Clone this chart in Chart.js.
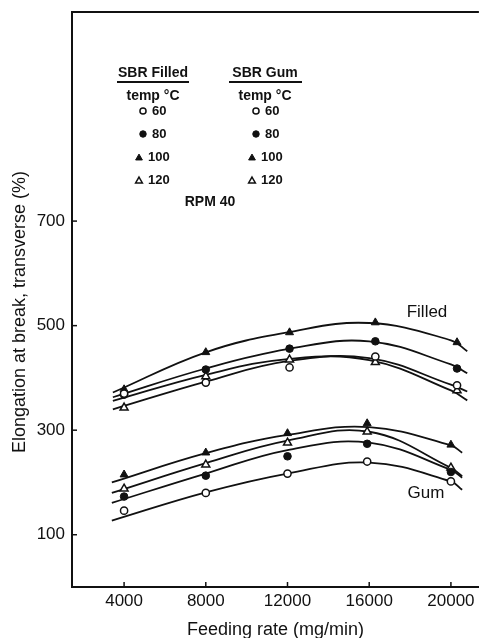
<!DOCTYPE html>
<html><head><meta charset="utf-8">
<script src="https://cdn.jsdelivr.net/npm/chart.js@4.4.1/dist/chart.umd.min.js"></script>
<style>html,body{margin:0;padding:0;background:#fff;overflow:hidden}#wrap{width:480px;height:638px;position:relative;overflow:hidden}canvas{display:block}</style>
</head><body><div id="wrap"><canvas id="c" width="485" height="638"></canvas></div>
<script>
// ---- data ----
const xTicks = [4000, 8000, 12000, 16000, 20000];
const yTicks = [100, 300, 500, 700];
const temps = ['60', '80', '100', '120'];

// measured points
const filledX   = [4000, 8000, 12100, 16300, 20300];
const filled60  = [370, 391, 420, 441, 386];
const filled80  = [368, 416, 456, 470, 418];
const filled100 = [378, 449, 487, 506, 468];
const filled120 = [343, 403, 435, 430, 376];

const gumX   = [4000, 8000, 12000, 15900, 20000];
const gum60  = [146, 180, 217, 240, 202];
const gum80  = [173, 213, 250, 274, 220];
const gum100 = [215, 257, 294, 313, 272];
const gum120 = [188, 234, 276, 297, 228];

// fitted curves
const filledCurveX = [3450, 8000, 12000, 16000, 20000, 20800];
const filledFit60  = [340, 393, 432, 438, 387, 374];
const filledFit80  = [363, 418, 455, 470, 426, 409];
const filledFit100 = [372, 449, 487, 505, 472, 451];
const filledFit120 = [356, 406, 436, 434, 376, 357];

const gumCurveX = [3400, 8000, 12000, 16000, 20000, 20550];
const gumFit60  = [127, 181, 217, 238, 202, 186];
const gumFit80  = [161, 217, 262, 276, 224, 209];
const gumFit100 = [200, 256, 291, 306, 271, 257];
const gumFit120 = [180, 237, 280, 297, 228, 212];

// ---- build datasets ----
const INK = '#111';
const FONT = '"Liberation Sans", Arial, Helvetica, sans-serif';
const pts = (xs, ys) => xs.map((x, i) => ({x: x, y: ys[i]}));

const markerStyles = {
  '60':  {pointStyle: 'circle',   pointRadius: 3.6, pointBackgroundColor: '#fff', pointBorderColor: INK, pointBorderWidth: 1.5},
  '80':  {pointStyle: 'circle',   pointRadius: 3.8, pointBackgroundColor: INK,    pointBorderColor: INK, pointBorderWidth: 1},
  '100': {pointStyle: 'triangle', pointRadius: 4.6, pointBackgroundColor: INK,    pointBorderColor: INK, pointBorderWidth: 1},
  '120': {pointStyle: 'triangle', pointRadius: 4.6, pointBackgroundColor: '#fff', pointBorderColor: INK, pointBorderWidth: 1.5}
};

function markerSet(label, xs, ys, t) {
  return Object.assign({label: label, data: pts(xs, ys), showLine: false, order: 0}, markerStyles[t]);
}
function curveSet(label, xs, ys) {
  return {label: label, data: pts(xs, ys), showLine: true, pointRadius: 0, borderColor: INK,
          borderWidth: 1.8, tension: 0.4, fill: false, order: 1};
}

const datasets = [
  curveSet('Filled 60 fit', filledCurveX, filledFit60),
  curveSet('Filled 80 fit', filledCurveX, filledFit80),
  curveSet('Filled 100 fit', filledCurveX, filledFit100),
  curveSet('Filled 120 fit', filledCurveX, filledFit120),
  curveSet('Gum 60 fit', gumCurveX, gumFit60),
  curveSet('Gum 80 fit', gumCurveX, gumFit80),
  curveSet('Gum 100 fit', gumCurveX, gumFit100),
  curveSet('Gum 120 fit', gumCurveX, gumFit120),
  markerSet('Filled 60', filledX, filled60, '60'),
  markerSet('Filled 80', filledX, filled80, '80'),
  markerSet('Filled 100', filledX, filled100, '100'),
  markerSet('Filled 120', filledX, filled120, '120'),
  markerSet('Gum 60', gumX, gum60, '60'),
  markerSet('Gum 80', gumX, gum80, '80'),
  markerSet('Gum 100', gumX, gum100, '100'),
  markerSet('Gum 120', gumX, gum120, '120')
];

function drawMarker(ctx, t, x, y) {
  const s = markerStyles[t];
  const r = s.pointRadius * 0.85;
  ctx.save();
  ctx.beginPath();
  if (s.pointStyle === 'circle') {
    ctx.arc(x, y, r, 0, Math.PI * 2);
  } else {
    for (let k = 0; k < 3; k++) {
      const a = k * 2 * Math.PI / 3;
      const px = x + Math.sin(a) * r, py = y - Math.cos(a) * r;
      if (k === 0) ctx.moveTo(px, py); else ctx.lineTo(px, py);
    }
    ctx.closePath();
  }
  ctx.fillStyle = s.pointBackgroundColor;
  ctx.fill();
  ctx.lineWidth = s.pointBorderWidth;
  ctx.strokeStyle = INK;
  ctx.stroke();
  ctx.restore();
}

const decor = {
  id: 'decor',
  afterDraw(chart) {
    const {ctx, chartArea: ca, scales} = chart;
    ctx.save();
    ctx.strokeStyle = INK;
    // top frame line
    ctx.lineWidth = 2;
    ctx.beginPath(); ctx.moveTo(ca.left - 1, ca.top); ctx.lineTo(ca.right, ca.top); ctx.stroke();
    // inward tick marks
    ctx.lineWidth = 1.5;
    yTicks.forEach(v => {
      const py = scales.y.getPixelForValue(v);
      ctx.beginPath(); ctx.moveTo(ca.left, py); ctx.lineTo(ca.left + 5, py); ctx.stroke();
    });
    xTicks.forEach(v => {
      const px = scales.x.getPixelForValue(v);
      ctx.beginPath(); ctx.moveTo(px, ca.bottom); ctx.lineTo(px, ca.bottom - 5); ctx.stroke();
    });

    // key
    ctx.fillStyle = INK;
    ctx.textBaseline = 'middle';
    const cols = [{title: 'SBR Filled', cx: 153, u0: 117, u1: 189, m: 143, mt: 139},
                  {title: 'SBR Gum',    cx: 265, u0: 229, u1: 302, m: 256, mt: 252}];
    cols.forEach(c => {
      ctx.textAlign = 'center';
      ctx.font = 'bold 14px ' + FONT;
      ctx.fillText(c.title, c.cx, 73);
      ctx.lineWidth = 2;
      ctx.beginPath(); ctx.moveTo(c.u0, 82); ctx.lineTo(c.u1, 82); ctx.stroke();
      ctx.fillText('temp °C', c.cx, 96);
      ctx.font = 'bold 13px ' + FONT;
      ctx.textAlign = 'left';
      temps.forEach((t, i) => {
        const yy = 111 + i * 23;
        const tri = markerStyles[t].pointStyle === 'triangle';
        drawMarker(ctx, t, tri ? c.mt : c.m, yy + (tri ? 1 : 0));
        ctx.fillText(t, (tri ? c.mt : c.m) + 9, yy);
      });
    });
    ctx.textAlign = 'center';
    ctx.font = 'bold 14px ' + FONT;
    ctx.fillText('RPM 40', 210, 202);

    // curve group labels
    ctx.font = '17px ' + FONT;
    ctx.fillText('Filled', 427, 312);
    ctx.fillText('Gum', 426, 493);
    ctx.restore();
  }
};

new Chart(document.getElementById('c'), {
  type: 'scatter',
  data: {datasets: datasets},
  options: {
    responsive: false,
    animation: false,
    events: [],
    layout: {padding: {top: 12, right: 0, left: 0, bottom: 0}},
    plugins: {legend: {display: false}, tooltip: {enabled: false}},
    scales: {
      x: {
        type: 'linear', min: 1450, max: 21370,
        afterFit(s) { s.height = 51; s.paddingLeft = 0; s.paddingRight = 0; },
        afterBuildTicks(s) { s.ticks = xTicks.map(v => ({value: v})); },
        grid: {display: false, drawTicks: false},
        border: {display: true, color: INK, width: 2},
        ticks: {color: INK, font: {family: FONT, size: 17}, padding: 4, maxRotation: 0, autoSkip: false,
                callback: v => String(v)},
        title: {display: true, text: 'Feeding rate (mg/min)', color: INK,
                font: {family: FONT, size: 18}, padding: {top: 0, bottom: -3}}
      },
      y: {
        type: 'linear', min: 0, max: 1100,
        afterFit(s) { s.width = 72; s.paddingTop = 0; s.paddingBottom = 0; },
        afterBuildTicks(s) { s.ticks = yTicks.map(v => ({value: v})); },
        grid: {display: false, drawTicks: false},
        border: {display: true, color: INK, width: 2},
        ticks: {color: INK, font: {family: FONT, size: 17}, padding: 7, autoSkip: false,
                callback: v => String(v)},
        title: {display: true, text: 'Elongation at break, transverse (%)     ', color: INK,
                font: {family: FONT, size: 18}, padding: {top: 9, bottom: 0}}
      }
    }
  },
  plugins: [decor]
});
</script>
</body></html>
